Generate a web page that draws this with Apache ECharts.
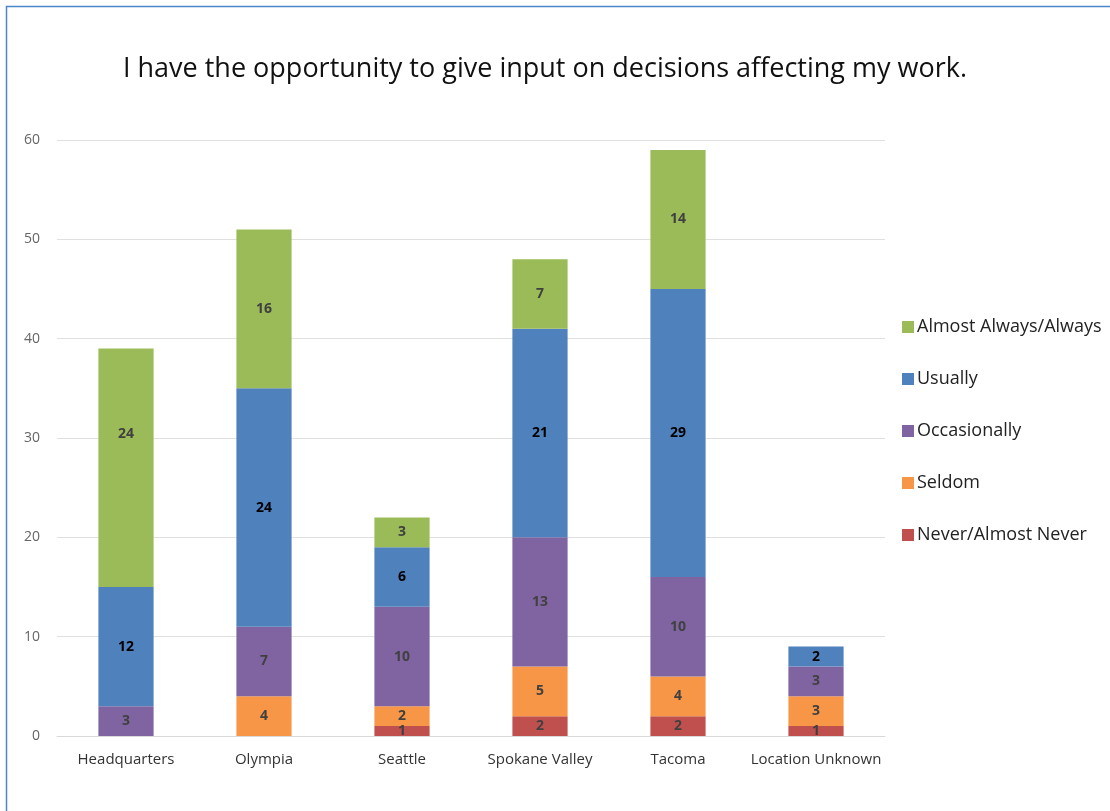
<!DOCTYPE html>
<html>
<head>
<meta charset="utf-8">
<script src="https://cdn.jsdelivr.net/npm/echarts@6/dist/echarts.min.js"></script>
<style>
  html, body { margin: 0; padding: 0; background: #fff; }
  #chart { width: 1110px; height: 811px; }
</style>
</head>
<body>
<div id="chart"></div>
<script>
// Survey responses per location
const locations = ['Headquarters', 'Olympia', 'Seattle', 'Spokane Valley', 'Tacoma', 'Location Unknown'];
const neverAlmostNever = [0, 0, 1, 2, 2, 1];
const seldom = [0, 4, 2, 5, 4, 3];
const occasionally = [3, 7, 10, 13, 10, 3];
const usually = [12, 24, 6, 21, 29, 2];
const almostAlways = [24, 16, 3, 7, 14, 0];
const yTicks = [0, 10, 20, 30, 40, 50, 60];

const font = '"Open Sans", "Noto Sans", sans-serif';

// labelShift: optional per-category vertical nudge of the value label (px)
function makeSeries(name, data, color, labelColor, labelShift) {
  return {
    name: name,
    type: 'bar',
    stack: 'total',
    barWidth: '40%',
    data: data.map((v, i) => {
      const shift = labelShift && labelShift[i];
      return shift ? { value: v, label: { offset: [0, shift] } } : v;
    }),
    itemStyle: { color: color },
    label: {
      show: true,
      position: 'inside',
      color: labelColor,
      fontWeight: 'bold',
      fontSize: 14,
      fontFamily: font,
      formatter: p => (p.value ? String(p.value) : '')
    },
    emphasis: { disabled: true }
  };
}

const chart = echarts.init(document.getElementById('chart'));
chart.setOption({
  animation: false,
  backgroundColor: '#fff',
  title: {
    text: 'I have the opportunity to give input on decisions affecting my work.',
    left: 540,
    textAlign: 'center',
    top: 51,
    textStyle: { fontFamily: font, fontSize: 27, fontWeight: 'normal', color: '#111' }
  },
  graphic: [{
    type: 'rect',
    shape: { x: 6.5, y: 6.5, width: 1200, height: 900 },
    style: { fill: 'none', stroke: '#4A86C8', lineWidth: 1.5 },
    silent: true
  }],
  legend: {
    orient: 'vertical',
    left: 897,
    top: 313,
    itemGap: 34,
    itemWidth: 12,
    itemHeight: 12,
    icon: 'rect',
    data: ['Almost Always/Always', 'Usually', 'Occasionally', 'Seldom', 'Never/Almost Never'],
    textStyle: { fontFamily: font, fontSize: 18, color: '#222', padding: [0, 0, 0, -2] }
  },
  grid: { left: 57, right: 225, top: 140, bottom: 75 },
  xAxis: {
    type: 'category',
    data: locations,
    axisTick: { show: false },
    axisLine: { lineStyle: { color: '#d9d9d9' } },
    axisLabel: { color: '#333', fontFamily: font, fontSize: 15, margin: 16, interval: 0 }
  },
  yAxis: {
    type: 'value',
    min: yTicks[0],
    max: yTicks[yTicks.length - 1],
    interval: 10,
    axisLine: { show: false },
    axisTick: { show: false },
    splitLine: { lineStyle: { color: '#e0e0e0' } },
    axisLabel: { color: '#666', fontFamily: font, fontSize: 14, margin: 17 }
  },
  series: [
    makeSeries('Never/Almost Never', neverAlmostNever, '#C0504D', '#404040'),
    makeSeries('Seldom', seldom, '#F79646', '#404040'),
    makeSeries('Occasionally', occasionally, '#8064A2', '#404040'),
    makeSeries('Usually', usually, '#4F81BD', '#000'),
    makeSeries('Almost Always/Always', almostAlways, '#9BBB59', '#404040', [-34])
  ]
});
</script>
</body>
</html>
